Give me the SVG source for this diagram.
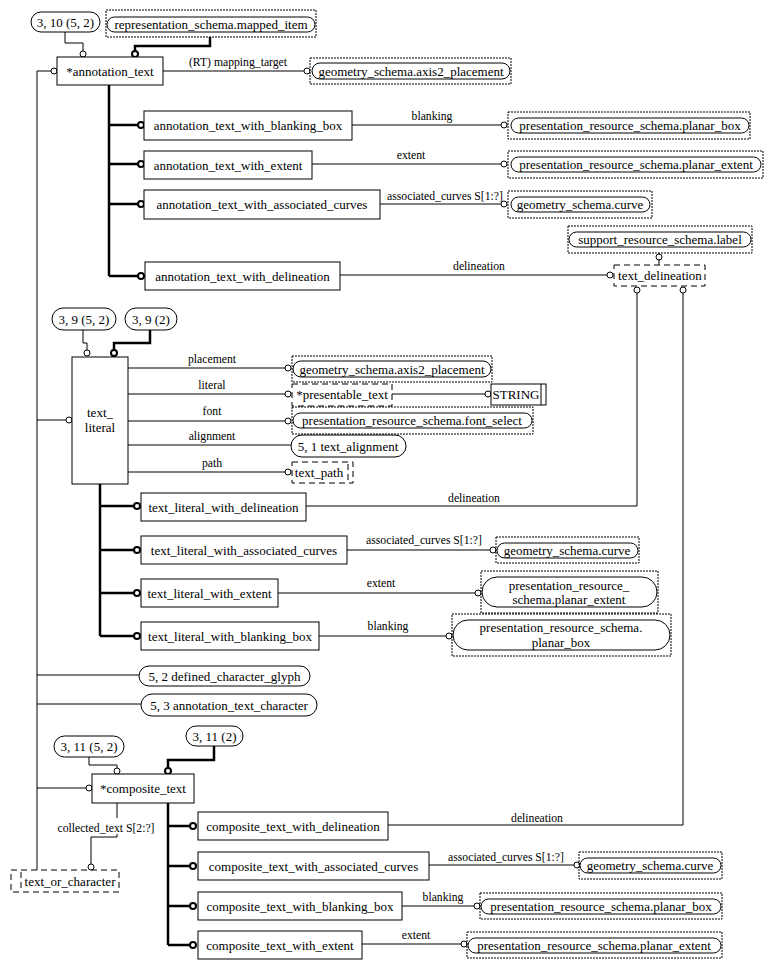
<svg xmlns="http://www.w3.org/2000/svg" width="773" height="969" viewBox="0 0 773 969">
<style>
text{font-family:"Liberation Serif","Times New Roman",serif;fill:#000}
.n{font-size:13px;text-anchor:middle}
.l{font-size:11.7px;text-anchor:middle}
.box{fill:#fff;stroke:#000;stroke-width:1}
.dash{fill:none;stroke:#000;stroke-width:1;stroke-dasharray:2,1}
.td{fill:none;stroke:#000;stroke-width:1;stroke-dasharray:6,4}
.pill{fill:#fff;stroke:#000;stroke-width:1}
.ln{fill:none;stroke:#000;stroke-width:1}
.tk{fill:none;stroke:#000;stroke-width:2.5}
.c{fill:#fff;stroke:#000;stroke-width:1}
.ct{fill:#fff;stroke:#000;stroke-width:2}
</style>
<rect width="773" height="969" fill="#fff"/>

<g id="connectors">
  <path class="ln" d="M37,71 H51 M37,71 V870 M37,420 H66 M37,675 H139 M37,704 H141 M37,788 H86"/>
  <path class="ln" d="M65,32 V43 H83 V51"/>
  <path class="tk" d="M210,37 V46 H135 V51"/>
  <path class="ln" d="M163,71 H304"/>
  <path class="tk" d="M109,85 V276 M109,125 H138 M109,164 H138 M109,204 H138 M109,276 H138"/>
  <path class="ln" d="M352,125 H501 M312,164 H501 M380,204 H501 M340,275 H607"/>
  <path class="ln" d="M659,253 V254 M659,260 V265"/>
  <path class="ln" d="M637,293 V506 H306 M683,293 V825 H388"/>
  <path class="ln" d="M83,330 V343 H87 V350"/>
  <path class="tk" d="M150,330 V343 H114 V350"/>
  <path class="ln" d="M128,368 H285 M128,394 H285 M392,394 H485 M128,421 H285 M128,445 H291 M128,472 H285"/>
  <path class="tk" d="M100,484 V636 M100,506 H134 M100,550 H134 M100,593 H134 M100,636 H134"/>
  <path class="ln" d="M347,550 H490 M278,593 H475 M319,636 H446"/>
  <path class="ln" d="M89,757 V765 H117 V768"/>
  <path class="tk" d="M214,746 V760 H168 V768"/>
  <path class="ln" d="M117,803 V818 M117,834 V837 H91 V864"/>
  <path class="tk" d="M168,803 V945 M168,826 H190 M168,866 H190 M168,906 H190 M168,945 H190"/>
  <path class="ln" d="M429,865 H574 M402,906 H474 M362,944 H461"/>
  <circle class="c" cx="54" cy="71" r="3"/>
  <circle class="c" cx="83" cy="54" r="3"/>
  <circle class="ct" cx="135" cy="54" r="3"/>
  <circle class="c" cx="307" cy="71" r="3"/>
  <circle class="ct" cx="141" cy="125" r="3"/>
  <circle class="ct" cx="141" cy="164" r="3"/>
  <circle class="ct" cx="141" cy="204" r="3"/>
  <circle class="ct" cx="141" cy="276" r="3"/>
  <circle class="c" cx="504" cy="125" r="3"/>
  <circle class="c" cx="504" cy="164" r="3"/>
  <circle class="c" cx="504" cy="204" r="3"/>
  <circle class="c" cx="610" cy="275" r="3"/>
  <circle class="c" cx="659" cy="257" r="3"/>
  <circle class="c" cx="637" cy="290" r="3"/>
  <circle class="c" cx="683" cy="290" r="3"/>
  <circle class="c" cx="69" cy="420" r="3"/>
  <circle class="c" cx="87" cy="353" r="3"/>
  <circle class="ct" cx="114" cy="353" r="3"/>
  <circle class="c" cx="288" cy="368" r="3"/>
  <circle class="c" cx="288" cy="394" r="3"/>
  <circle class="c" cx="488" cy="394" r="3"/>
  <circle class="c" cx="288" cy="421" r="3"/>
  <circle class="c" cx="288" cy="472" r="3"/>
  <circle class="ct" cx="137" cy="506" r="3"/>
  <circle class="ct" cx="137" cy="550" r="3"/>
  <circle class="ct" cx="137" cy="593" r="3"/>
  <circle class="ct" cx="137" cy="636" r="3"/>
  <circle class="c" cx="493" cy="550" r="3"/>
  <circle class="c" cx="478" cy="593" r="3"/>
  <circle class="c" cx="449" cy="636" r="3"/>
  <circle class="c" cx="89" cy="788" r="3"/>
  <circle class="c" cx="117" cy="771" r="3"/>
  <circle class="ct" cx="168" cy="771" r="3"/>
  <circle class="c" cx="91" cy="867" r="3"/>
  <circle class="ct" cx="193" cy="826" r="3"/>
  <circle class="ct" cx="193" cy="866" r="3"/>
  <circle class="ct" cx="193" cy="906" r="3"/>
  <circle class="ct" cx="193" cy="945" r="3"/>
  <circle class="c" cx="577" cy="865" r="3"/>
  <circle class="c" cx="477" cy="906" r="3"/>
  <circle class="c" cx="464" cy="944" r="3"/>
  <text class="l" x="238" y="66">(RT) mapping_target</text>
  <text class="l" x="432" y="120">blanking</text>
  <text class="l" x="411" y="159">extent</text>
  <text class="l" x="445" y="200">associated_curves S[1:?]</text>
  <text class="l" x="479" y="270">delineation</text>
  <text class="l" x="212" y="363">placement</text>
  <text class="l" x="212" y="389">literal</text>
  <text class="l" x="212" y="415">font</text>
  <text class="l" x="212" y="440">alignment</text>
  <text class="l" x="212" y="467">path</text>
  <text class="l" x="474" y="502">delineation</text>
  <text class="l" x="424" y="544">associated_curves S[1:?]</text>
  <text class="l" x="381" y="587">extent</text>
  <text class="l" x="388" y="630">blanking</text>
  <text class="l" x="106" y="832">collected_text S[2:?]</text>
  <text class="l" x="537" y="822">delineation</text>
  <text class="l" x="506" y="861">associated_curves S[1:?]</text>
  <text class="l" x="443" y="901">blanking</text>
  <text class="l" x="416" y="939">extent</text>
</g>

<g id="ref_3_10_5_2"><rect class="pill" x="31" y="12" width="69" height="20" rx="10"/><text class="n" x="65.5" y="26.5">3, 10 (5, 2)</text></g>
<g id="mapped_item"><rect class="dash" x="106" y="10" width="210" height="27"/><rect class="pill" x="107" y="17" width="208" height="15" rx="7.5"/><text class="n" x="211" y="29">representation_schema.mapped_item</text></g>
<g id="annotation_text"><rect class="box" x="57" y="57" width="106" height="28"/><text class="n" x="110" y="75.5">*annotation_text</text></g>
<g id="axis2_placement_1"><rect class="dash" x="310" y="58" width="201" height="26"/><rect class="pill" x="312" y="63" width="198" height="16" rx="8"/><text class="n" x="411" y="75.5">geometry_schema.axis2_placement</text></g>

<g id="annotation_text_with_blanking_box"><rect class="box" x="144" y="111" width="208" height="29"/><text class="n" x="248" y="130">annotation_text_with_blanking_box</text></g>
<g id="annotation_text_with_extent"><rect class="box" x="144" y="151" width="168" height="28"/><text class="n" x="228" y="169.5">annotation_text_with_extent</text></g>
<g id="annotation_text_with_associated_curves"><rect class="box" x="144" y="190" width="236" height="29"/><text class="n" x="262" y="209">annotation_text_with_associated_curves</text></g>
<g id="annotation_text_with_delineation"><rect class="box" x="145" y="262" width="195" height="28"/><text class="n" x="242.5" y="280.5">annotation_text_with_delineation</text></g>

<g id="planar_box_1"><rect class="dash" x="508" y="112" width="242" height="27"/><rect class="pill" x="511" y="118" width="238" height="15" rx="7.5"/><text class="n" x="630" y="130">presentation_resource_schema.planar_box</text></g>
<g id="planar_extent_1"><rect class="dash" x="508" y="151" width="255" height="27"/><rect class="pill" x="511" y="157" width="250" height="15" rx="7.5"/><text class="n" x="636" y="169">presentation_resource_schema.planar_extent</text></g>
<g id="curve_1"><rect class="dash" x="508" y="191" width="144" height="27"/><rect class="pill" x="511" y="197" width="139" height="15" rx="7.5"/><text class="n" x="580" y="209">geometry_schema.curve</text></g>
<g id="support_label"><rect class="dash" x="568" y="226" width="184" height="27"/><rect class="pill" x="569" y="232" width="182" height="15" rx="7.5"/><text class="n" x="660" y="244">support_resource_schema.label</text></g>
<g id="text_delineation"><rect class="td" x="614" y="265" width="91" height="21"/><text class="n" x="660" y="280">text_delineation</text></g>

<g id="ref_3_9_5_2"><rect class="pill" x="52" y="308" width="64" height="22" rx="11"/><text class="n" x="84" y="323.5">3, 9 (5, 2)</text></g>
<g id="ref_3_9_2"><rect class="pill" x="125" y="308" width="52" height="22" rx="11"/><text class="n" x="151" y="323.5">3, 9 (2)</text></g>
<g id="text_literal"><rect class="box" x="72" y="357" width="56" height="127"/><text class="n" x="100" y="417">text_</text><text class="n" x="100" y="432">literal</text></g>

<g id="axis2_placement_2"><rect class="dash" x="292" y="356" width="200" height="26"/><rect class="pill" x="293" y="361" width="198" height="16" rx="8"/><text class="n" x="392" y="373.5">geometry_schema.axis2_placement</text></g>
<g id="presentable_text"><rect class="td" x="292" y="384" width="100" height="22"/><text class="n" x="342" y="399">*presentable_text</text></g>
<g id="STRING"><rect class="box" x="491" y="384" width="55" height="21"/><line class="ln" x1="541" y1="384" x2="541" y2="405"/><text class="n" x="516" y="399">STRING</text></g>
<g id="font_select"><rect class="dash" x="292" y="407" width="241" height="27"/><rect class="pill" x="293" y="413" width="239" height="15" rx="7.5"/><text class="n" x="412" y="425">presentation_resource_schema.font_select</text></g>
<g id="text_alignment"><rect class="pill" x="291" y="435" width="115" height="22" rx="11"/><text class="n" x="348" y="450.5">5, 1 text_alignment</text></g>
<g id="text_path"><rect class="td" x="292" y="462" width="61" height="21"/><line class="td" x1="348" y1="464" x2="348" y2="481"/><text class="n" x="319" y="477">text_path</text></g>

<g id="text_literal_with_delineation"><rect class="box" x="141" y="493" width="165" height="28"/><text class="n" x="223.5" y="511.5">text_literal_with_delineation</text></g>
<g id="text_literal_with_associated_curves"><rect class="box" x="141" y="536" width="206" height="28"/><text class="n" x="244" y="554.5">text_literal_with_associated_curves</text></g>
<g id="text_literal_with_extent"><rect class="box" x="141" y="579" width="137" height="28"/><text class="n" x="209.5" y="597.5">text_literal_with_extent</text></g>
<g id="text_literal_with_blanking_box"><rect class="box" x="141" y="622" width="178" height="28"/><text class="n" x="230" y="640.5">text_literal_with_blanking_box</text></g>

<g id="curve_2"><rect class="dash" x="496" y="537" width="143" height="26"/><rect class="pill" x="497" y="543" width="141" height="15" rx="7.5"/><text class="n" x="567" y="555">geometry_schema.curve</text></g>
<g id="planar_extent_2"><rect class="dash" x="481" y="571" width="177" height="42"/><rect class="pill" x="482" y="577" width="175" height="30" rx="15"/><text class="n" x="569" y="590">presentation_resource_</text><text class="n" x="569" y="604">schema.planar_extent</text></g>
<g id="planar_box_2"><rect class="dash" x="452" y="614" width="219" height="42"/><rect class="pill" x="453" y="620" width="217" height="30" rx="15"/><text class="n" x="561" y="632">presentation_resource_schema.</text><text class="n" x="561" y="647">planar_box</text></g>

<g id="defined_character_glyph"><rect class="pill" x="139" y="666" width="171" height="20" rx="10"/><text class="n" x="224.5" y="680.5">5, 2 defined_character_glyph</text></g>
<g id="annotation_text_character"><rect class="pill" x="141" y="694" width="176" height="22" rx="11"/><text class="n" x="229" y="709.5">5, 3 annotation_text_character</text></g>

<g id="ref_3_11_5_2"><rect class="pill" x="54" y="736" width="70" height="21" rx="10.5"/><text class="n" x="89" y="751">3, 11 (5, 2)</text></g>
<g id="ref_3_11_2"><rect class="pill" x="186" y="726" width="57" height="20" rx="10"/><text class="n" x="214.5" y="740.5">3, 11 (2)</text></g>
<g id="composite_text"><rect class="box" x="92" y="774" width="102" height="29"/><text class="n" x="143" y="793">*composite_text</text></g>
<g id="text_or_character"><rect class="td" x="11" y="870" width="108" height="22"/><line class="td" x1="21" y1="872" x2="21" y2="890"/><text class="n" x="70" y="885.5">text_or_character</text></g>

<g id="composite_text_with_delineation"><rect class="box" x="198" y="812" width="190" height="28"/><text class="n" x="293" y="830.5">composite_text_with_delineation</text></g>
<g id="composite_text_with_associated_curves"><rect class="box" x="198" y="852" width="231" height="28"/><text class="n" x="313.5" y="870.5">composite_text_with_associated_curves</text></g>
<g id="composite_text_with_blanking_box"><rect class="box" x="198" y="892" width="204" height="28"/><text class="n" x="300" y="910.5">composite_text_with_blanking_box</text></g>
<g id="composite_text_with_extent"><rect class="box" x="198" y="931" width="164" height="28"/><text class="n" x="280" y="949.5">composite_text_with_extent</text></g>

<g id="curve_3"><rect class="dash" x="579" y="852" width="143" height="27"/><rect class="pill" x="580" y="858" width="141" height="15" rx="7.5"/><text class="n" x="650" y="870">geometry_schema.curve</text></g>
<g id="planar_box_3"><rect class="dash" x="480" y="893" width="242" height="26"/><rect class="pill" x="481" y="899" width="240" height="15" rx="7.5"/><text class="n" x="601" y="911">presentation_resource_schema.planar_box</text></g>
<g id="planar_extent_3"><rect class="dash" x="467" y="932" width="255" height="26"/><rect class="pill" x="468" y="938" width="253" height="15" rx="7.5"/><text class="n" x="594" y="950">presentation_resource_schema.planar_extent</text></g>
</svg>
